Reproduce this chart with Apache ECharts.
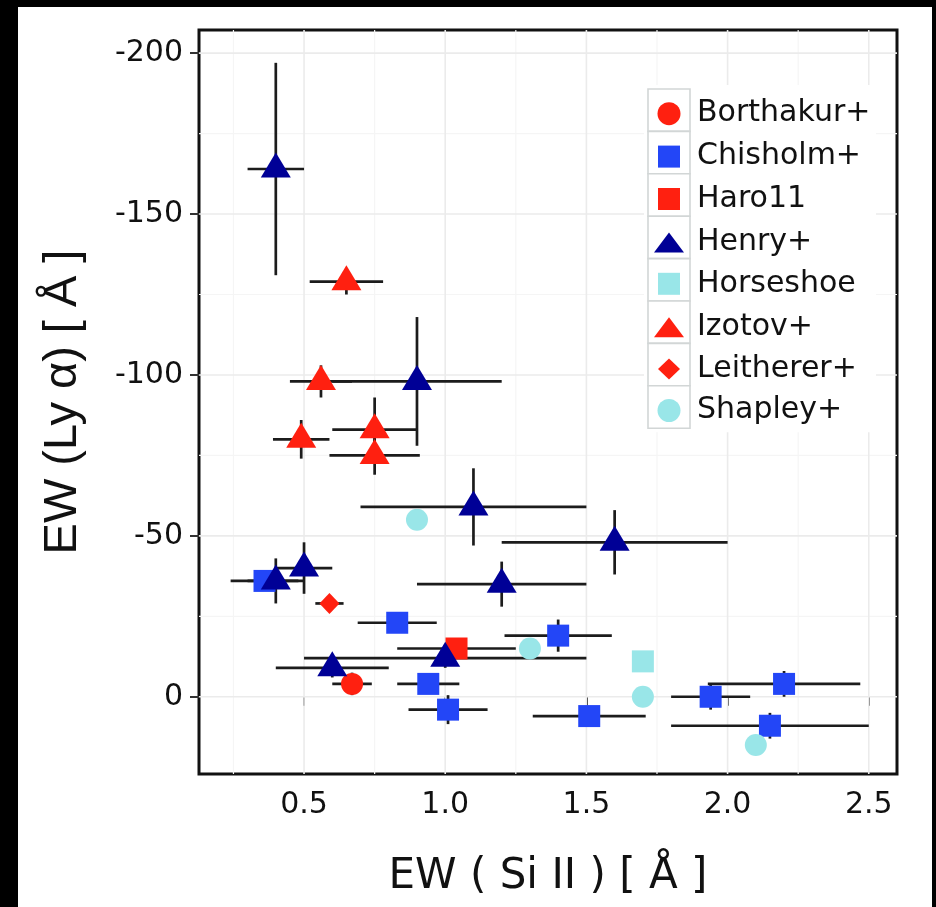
<!DOCTYPE html>
<html>
<head>
<meta charset="utf-8">
<script src="https://cdn.jsdelivr.net/npm/echarts@6/dist/echarts.min.js"></script>
<style>
  html, body { margin: 0; padding: 0; background: #000; }
  #paper { position: absolute; left: 18px; top: 7px; width: 914px; height: 900px; background: #fff; }
  #chart { position: absolute; left: 0; top: 0; width: 936px; height: 907px; }
</style>
</head>
<body>
<div id="paper"></div>
<div id="chart"></div>
<script>
// Group names, in legend order
const categories = ['Borthakur+', 'Chisholm+', 'Haro11', 'Henry+', 'Horseshoe', 'Izotov+', 'Leitherer+', 'Shapley+'];

// EW(Si II) [Å] and EW(Lyα) [Å] with symmetric uncertainties
const borthakurX = [0.67];
const borthakurY = [-4];
const borthakurXErr = [0.07];
const borthakurYErr = [3.5];

const chisholmX = [0.36, 0.83, 1.40, 0.94, 1.01, 1.51, 1.94, 2.20, 2.15];
const chisholmY = [-36, -23, -19, -4, 4, 6, 0, -4, 9];
const chisholmXErr = [0.12, 0.14, 0.19, 0.11, 0.14, 0.20, 0.14, 0.27, 0.35];
const chisholmYErr = [2, 2, 5, 3, 4.5, 2, 4, 4, 4];

const haroX = [1.04];
const haroY = [-15];
const haroXErr = [0.21];
const haroYErr = [2];

const henryX = [0.40, 0.90, 1.10, 1.60, 1.20, 0.50, 0.40, 0.60, 1.00];
const henryY = [-164, -98, -59, -48, -35, -40, -36, -9, -12];
const henryXErr = [0.10, 0.30, 0.40, 0.40, 0.30, 0.10, 0.10, 0.20, 0.50];
const henryYErr = [33, 20, 12, 10, 7, 8, 7, 3, 3];

const horseshoeX = [1.70];
const horseshoeY = [-11];

const izotovX = [0.65, 0.56, 0.75, 0.49, 0.75];
const izotovY = [-129, -98, -83, -80, -75];
const izotovXErr = [0.13, 0.11, 0.15, 0.10, 0.16];
const izotovYErr = [4, 5, 10, 6, 6];

const leithererX = [0.59];
const leithererY = [-29];
const leithererXErr = [0.05];
const leithererYErr = [0];

const shapleyX = [0.90, 1.30, 1.70, 2.10];
const shapleyY = [-55, -15, 0, 15];

// Axis ticks and grid lines
const xMajorTicks = [0.5, 1.0, 1.5, 2.0, 2.5];
const xMinorTicks = [0.25, 0.75, 1.25, 1.75, 2.25];
const yMajorTicks = [-200, -150, -100, -50, 0];
const yMinorTicks = [-175, -125, -75, -25];

// ---------------------------------------------------------------------------
const RED = '#FF2010';
const BLUE = '#2346F7';
const NAVY = '#000096';
const CYAN = '#99E6E8';

const groups = {
  'Borthakur+': { x: borthakurX, y: borthakurY, ex: borthakurXErr, ey: borthakurYErr },
  'Chisholm+':  { x: chisholmX, y: chisholmY, ex: chisholmXErr, ey: chisholmYErr },
  'Haro11':     { x: haroX, y: haroY, ex: haroXErr, ey: haroYErr },
  'Henry+':     { x: henryX, y: henryY, ex: henryXErr, ey: henryYErr },
  'Horseshoe':  { x: horseshoeX, y: horseshoeY },
  'Izotov+':    { x: izotovX, y: izotovY, ex: izotovXErr, ey: izotovYErr },
  'Leitherer+': { x: leithererX, y: leithererY, ex: leithererXErr, ey: leithererYErr },
  'Shapley+':   { x: shapleyX, y: shapleyY }
};

const looks = {
  'Borthakur+': { symbol: 'circle',   size: 22,       offset: [0, 0],  color: RED,  key: [23, 23] },
  'Chisholm+':  { symbol: 'rect',     size: 22,       offset: [0, 0],  color: BLUE, key: [22, 22] },
  'Haro11':     { symbol: 'rect',     size: 22,       offset: [0, 0],  color: RED,  key: [22, 22] },
  'Henry+':     { symbol: 'triangle', size: [30, 25], offset: [0, -4], color: NAVY, key: [30, 20] },
  'Horseshoe':  { symbol: 'rect',     size: 22,       offset: [0, 0],  color: CYAN, key: [22, 22] },
  'Izotov+':    { symbol: 'triangle', size: [30, 25], offset: [0, -4], color: RED,  key: [30, 20] },
  'Leitherer+': { symbol: 'diamond',  size: [20, 21], offset: [0, 0],  color: RED,  key: [22, 21] },
  'Shapley+':   { symbol: 'circle',   size: 22,       offset: [0, 0],  color: CYAN, key: [23, 23] }
};

// Error bar records [x, y, xerr, yerr]
const errData = [];
categories.forEach(name => {
  const g = groups[name];
  if (!g.ex) return;
  g.x.forEach((xv, i) => errData.push([xv, g.y[i], g.ex[i] || 0, g.ey[i] || 0]));
});

// Grid line records [value, isX, isMajor]
const gridData = []
  .concat(xMinorTicks.map(v => [v, 1, 0]))
  .concat(yMinorTicks.map(v => [v, 0, 0]))
  .concat(xMajorTicks.map(v => [v, 1, 1]))
  .concat(yMajorTicks.map(v => [v, 0, 1]));

const X_MIN = 0.128, X_MAX = 2.60;
const Y_MIN = -207.2, Y_MAX = 24;

const gridSeries = {
  type: 'custom',
  name: 'grid',
  silent: true,
  z: 1,
  clip: false,
  data: gridData,
  encode: { x: -1, y: -1 },
  renderItem: (params, api) => {
    const v = api.value(0), isX = api.value(1), major = api.value(2);
    const cs = params.coordSys;
    const style = { stroke: major ? '#EBEBEB' : '#F5F5F5', lineWidth: major ? 1.6 : 1.2 };
    if (isX) {
      const px = api.coord([v, 0])[0];
      return { type: 'line', shape: { x1: px, y1: cs.y, x2: px, y2: cs.y + cs.height }, style };
    }
    const py = api.coord([1, v])[1];
    return { type: 'line', shape: { x1: cs.x, y1: py, x2: cs.x + cs.width, y2: py }, style };
  }
};

const errSeries = {
  type: 'custom',
  name: 'errors',
  silent: true,
  z: 2,
  data: errData,
  encode: { x: 0, y: 1 },
  renderItem: (params, api) => {
    const x = api.value(0), y = api.value(1), ex = api.value(2), ey = api.value(3);
    const style = { stroke: '#1C1C1C', lineWidth: 2.7 };
    const children = [];
    if (ex > 0) {
      const a = api.coord([x - ex, y]), b = api.coord([x + ex, y]);
      children.push({ type: 'line', shape: { x1: a[0], y1: a[1], x2: b[0], y2: b[1] }, style });
    }
    if (ey > 0) {
      const a = api.coord([x, y - ey]), b = api.coord([x, y + ey]);
      children.push({ type: 'line', shape: { x1: a[0], y1: a[1], x2: b[0], y2: b[1] }, style });
    }
    return { type: 'group', children };
  }
};

const pointSeries = categories.map((name, k) => {
  const g = groups[name], lk = looks[name];
  return {
    type: 'scatter',
    name,
    z: 3 + k,
    symbol: lk.symbol,
    symbolSize: lk.size,
    symbolOffset: lk.offset,
    itemStyle: { color: lk.color, opacity: 1 },
    emphasis: { disabled: true },
    data: g.x.map((xv, i) => [xv, g.y[i]])
  };
});

// Legend: one boxed key per group
const KEY = { left: 648, top: 89, w: 42, step: 42.4, textLeft: 697 };
const legends = categories.map((name, i) => {
  const lk = looks[name];
  const [w, h] = lk.key;
  const cx = KEY.left + KEY.w / 2;
  const cy = KEY.top + i * KEY.step + KEY.step / 2;
  return {
    data: [{ name, icon: lk.symbol }],
    orient: 'vertical',
    left: cx - w / 2,
    top: cy - h / 2,
    itemWidth: w,
    itemHeight: h,
    padding: 0,
    itemGap: 0,
    z: 20,
    selectedMode: false,
    textStyle: {
      fontFamily: 'DejaVu Sans',
      fontSize: 30,
      lineHeight: h,
      color: '#111',
      padding: [0, 0, 0, KEY.textLeft - (cx + w / 2 + 5)]
    }
  };
});

const keyBoxes = [{
  type: 'rect', z: 9,
  shape: { x: KEY.left - 4, y: KEY.top - 4, width: 232, height: KEY.step * categories.length + 8 },
  style: { fill: '#fff' }
}].concat(categories.map((name, i) => ({
  type: 'rect', z: 10,
  shape: { x: KEY.left, y: KEY.top + i * KEY.step, width: KEY.w, height: KEY.step },
  style: { fill: '#fff', stroke: '#D2D6D6', lineWidth: 1.6 }
})));

const tickStyle = { show: true, inside: false, length: 9, lineStyle: { color: '#333', width: 2 } };
const labelFont = { fontFamily: 'DejaVu Sans', fontSize: 30, color: '#111' };

const chart = echarts.init(document.getElementById('chart'), null, { renderer: 'canvas' });
chart.setOption({
  animation: false,
  backgroundColor: 'transparent',
  grid: {
    left: 199, right: 39, top: 30, bottom: 133,
    show: true, borderColor: '#111', borderWidth: 3, backgroundColor: '#fff', z: 0
  },
  xAxis: {
    type: 'value',
    min: X_MIN, max: X_MAX,
    axisLine: { show: false },
    axisTick: Object.assign({ customValues: xMajorTicks }, tickStyle),
    axisLabel: Object.assign({ customValues: xMajorTicks, margin: 16, formatter: v => v.toFixed(1) }, labelFont),
    splitLine: { show: false },
    name: 'EW ( Si II ) [ Å ]',
    nameLocation: 'middle',
    nameGap: 82,
    nameTextStyle: { fontFamily: 'DejaVu Sans', fontSize: 42, color: '#111' }
  },
  yAxis: {
    type: 'value',
    inverse: true,
    min: Y_MIN, max: Y_MAX,
    axisLine: { show: false },
    axisTick: Object.assign({ customValues: yMajorTicks }, tickStyle),
    axisLabel: Object.assign({ customValues: yMajorTicks, margin: 16, formatter: v => String(v) }, labelFont),
    splitLine: { show: false },
    name: 'EW (Ly α) [ Å ]',
    nameLocation: 'middle',
    nameGap: 112,
    nameTextStyle: { fontFamily: 'Liberation Sans', fontSize: 47, color: '#111' }
  },
  legend: legends,
  graphic: { elements: keyBoxes },
  series: [gridSeries, errSeries].concat(pointSeries)
});
</script>
</body>
</html>
